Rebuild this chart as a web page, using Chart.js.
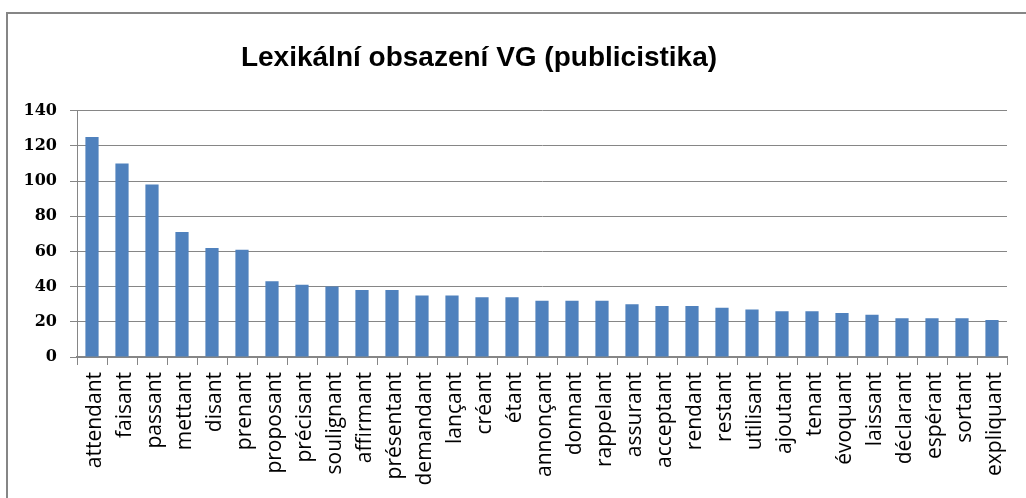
<!DOCTYPE html>
<html>
<head>
<meta charset="utf-8">
<script src="https://cdn.jsdelivr.net/npm/chart.js@4"></script>
<style>
  html, body { margin: 0; padding: 0; background: #fff; }
  #wrap { width: 1026px; height: 498px; }
</style>
</head>
<body>
<div id="wrap"><canvas id="vgChart"></canvas></div>
<script>
// Data
const titleText = 'Lexikální obsazení VG (publicistika)';
const words = ['attendant', 'faisant', 'passant', 'mettant', 'disant', 'prenant', 'proposant', 'précisant',
  'soulignant', 'affirmant', 'présentant', 'demandant', 'lançant', 'créant', 'étant', 'annonçant',
  'donnant', 'rappelant', 'assurant', 'acceptant', 'rendant', 'restant', 'utilisant', 'ajoutant',
  'tenant', 'évoquant', 'laissant', 'déclarant', 'espérant', 'sortant', 'expliquant'];
const counts = [125, 110, 98, 71, 62, 61, 43, 41,
  40, 38, 38, 35, 35, 34, 34, 32,
  32, 32, 30, 29, 29, 28, 27, 26,
  26, 25, 24, 22, 22, 22, 21];
const yTicks = [0, 20, 40, 60, 80, 100, 120, 140];

const gray = '#868686';

// Frame of the chart object (cut off at right and bottom)
const framePlugin = {
  id: 'frame',
  beforeDraw(chart) {
    const ctx = chart.ctx;
    ctx.save();
    ctx.fillStyle = '#fff';
    ctx.fillRect(0, 0, chart.width, chart.height);
    ctx.strokeStyle = gray;
    ctx.lineWidth = 2;
    ctx.beginPath();
    ctx.moveTo(7, chart.height);
    ctx.lineTo(7, 13);
    ctx.lineTo(chart.width, 13);
    ctx.stroke();
    ctx.restore();
  },
  afterLayout(chart) {
    // title sits a bit left of the canvas centre
    chart.titleBlock.left = 0;
    chart.titleBlock.right = 958;
  }
};

new Chart(document.getElementById('vgChart'), {
  type: 'bar',
  data: {
    labels: words,
    datasets: [{
      data: counts,
      backgroundColor: '#4F81BD',
      barPercentage: 0.44,
      categoryPercentage: 1
    }]
  },
  options: {
    responsive: true,
    maintainAspectRatio: false,
    animation: false,
    layout: { padding: { left: 0, right: 19, top: 0, bottom: 0 } },
    plugins: {
      legend: { display: false },
      tooltip: { enabled: false },
      title: {
        display: true,
        text: titleText,
        color: '#000',
        font: { family: "'Liberation Sans', sans-serif", size: 28, weight: 'bold', lineHeight: 1.2 },
        padding: { top: 41, bottom: 36 }
      }
    },
    scales: {
      x: {
        afterFit(scale) { scale.height = 141; },
        border: { color: gray, width: 2 },
        grid: { display: true, drawOnChartArea: false, color: gray, tickLength: 8, offset: true },
        ticks: {
          color: '#000',
          minRotation: 90,
          maxRotation: 90,
          autoSkip: false,
          padding: 7,
          labelOffset: 3,
          font: { family: "'Open Sans', sans-serif", size: 21 }
        }
      },
      y: {
        min: 0,
        max: 140,
        afterFit(scale) { scale.width = 77; },
        afterBuildTicks(scale) { scale.ticks = yTicks.map(v => ({ value: v })); },
        border: { color: gray, width: 1 },
        grid: { color: gray, lineWidth: 1, tickLength: 7 },
        ticks: {
          color: '#000',
          padding: 13,
          font: { family: "'DejaVu Serif', serif", size: 16, weight: 'bold' }
        }
      }
    }
  },
  plugins: [framePlugin]
});
</script>
</body>
</html>
